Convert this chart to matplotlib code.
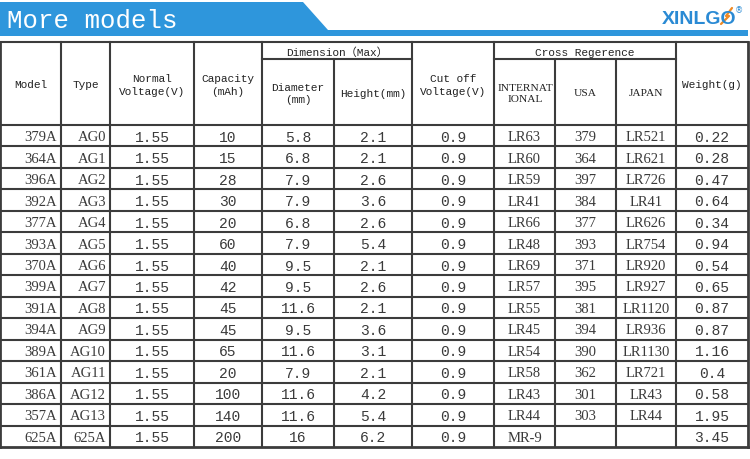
import matplotlib
matplotlib.use("Agg")
import matplotlib.pyplot as plt
from matplotlib.patches import Polygon

# ── table contents ──────────────────────────────────────────────
models   = ["379A", "364A", "396A", "392A", "377A", "393A", "370A", "399A",
            "391A", "394A", "389A", "361A", "386A", "357A", "625A"]
types    = ["AG0", "AG1", "AG2", "AG3", "AG4", "AG5", "AG6", "AG7",
            "AG8", "AG9", "AG10", "AG11", "AG12", "AG13", "625A"]
voltage  = ["1.55"] * 15
capacity = ["10", "15", "28", "30", "20", "60", "40", "42",
            "45", "45", "65", "20", "100", "140", "200"]
diameter = ["5.8", "6.8", "7.9", "7.9", "6.8", "7.9", "9.5", "9.5",
            "11.6", "9.5", "11.6", "7.9", "11.6", "11.6", "16"]
height   = ["2.1", "2.1", "2.6", "3.6", "2.6", "5.4", "2.1", "2.6",
            "2.1", "3.6", "3.1", "2.1", "4.2", "5.4", "6.2"]
cutoff   = ["0.9"] * 15
intl     = ["LR63", "LR60", "LR59", "LR41", "LR66", "LR48", "LR69", "LR57",
            "LR55", "LR45", "LR54", "LR58", "LR43", "LR44", "MR-9"]
usa      = ["379", "364", "397", "384", "377", "393", "371", "395",
            "381", "394", "390", "362", "301", "303", ""]
japan    = ["LR521", "LR621", "LR726", "LR41", "LR626", "LR754", "LR920", "LR927",
            "LR1120", "LR936", "LR1130", "LR721", "LR43", "LR44", ""]
weight   = ["0.22", "0.28", "0.47", "0.64", "0.34", "0.94", "0.54", "0.65",
            "0.87", "0.87", "1.16", "0.4", "0.58", "1.95", "3.45"]

columns = [models, types, voltage, capacity, diameter, height,
           cutoff, intl, usa, japan, weight]

top_headers = ["Model", "Type", "Normal\nVoltage(V)", "Capacity\n(mAh)", None, None,
               "Cut off\nVoltage(V)", None, None, None, "Weight(g)"]
group_headers = [("Dimension（Max）", 4, 5), ("Cross Regerence", 7, 9)]
sub_headers = {4: "Diameter\n(mm)", 5: "Height(mm)",
               7: "INTERNAT\nIONAL", 8: "USA", 9: "JAPAN"}

# ── layout (pixels) ─────────────────────────────────────────────
XS = [0, 61, 110, 194, 262, 334, 412, 494, 555, 616, 676, 748]
Y_TOP, Y_SUB, Y_HEAD = 43, 60, 126
Y_BOT = 448
ROW_H = (Y_BOT - Y_HEAD) / len(models)

MONO  = ["Liberation Mono", "Noto Sans CJK SC", "DejaVu Sans"]
SERIF = ["Liberation Serif", "DejaVu Serif"]
serif_cols = {0, 1, 7, 8, 9}
right_cols = {0, 1}

LINE = "#3c3c3c"
TXT  = "#3a3a3a"
HEAD = "#222222"
BLUE = "#2e96dc"

fig = plt.figure(figsize=(7.5, 4.6), dpi=100)
ax = fig.add_axes([0, 0, 1, 1])
ax.set_xlim(0, 750)
ax.set_ylim(460, 0)
ax.axis("off")

# ── banner ──────────────────────────────────────────────────────
ax.add_patch(Polygon([(0, 3), (303, 3), (328, 31), (748, 31), (748, 37), (0, 37)],
                     closed=True, facecolor=BLUE, edgecolor="none"))
ax.text(7, 21, "More models", family=MONO, fontsize=18.5, color="white",
        ha="left", va="center")

# logo
ax.text(662, 24, "XINLGO", family=["Liberation Sans", "DejaVu Sans"],
        fontweight="bold", fontsize=14, color="#2a8ad4", ha="left", va="baseline")
ax.plot([732, 726, 729, 721], [9, 17, 17, 25], color="#f08a24", lw=1.6,
        solid_capstyle="round")
ax.text(735, 11, "®", family=["DejaVu Sans"], fontsize=6, color="#2a8ad4",
        ha="left", va="center")

# ── grid lines ──────────────────────────────────────────────────
lw = 1.5
ax.plot([XS[0], XS[-1]], [Y_TOP, Y_TOP], color=LINE, lw=lw)
ax.plot([XS[4], XS[6]], [Y_SUB, Y_SUB], color=LINE, lw=lw)
ax.plot([XS[7], XS[10]], [Y_SUB, Y_SUB], color=LINE, lw=lw)
for i in range(len(models) + 1):
    y = Y_HEAD + i * ROW_H
    ax.plot([XS[0], XS[-1]], [y, y], color=LINE, lw=lw if i < len(models) else 2)
inner_sub = {5, 8, 9}
for j, x in enumerate(XS):
    y0 = Y_SUB if j in inner_sub else Y_TOP
    ax.plot([x, x], [y0, Y_BOT], color=LINE, lw=2 if j in (0, len(XS) - 1) else lw)

# ── header texts ────────────────────────────────────────────────
for j, h in enumerate(top_headers):
    if h is None:
        continue
    cx = (XS[j] + XS[j + 1]) / 2
    ax.text(cx, (Y_TOP + Y_HEAD) / 2 + 1, h, family=MONO, fontsize=8, color=HEAD,
            ha="center", va="center", linespacing=1.45, multialignment="center")
for label, a, b in group_headers:
    cx = (XS[a] + XS[b + 1]) / 2
    ax.text(cx, (Y_TOP + Y_SUB) / 2 + 1, label, family=MONO, fontsize=8,
            color=HEAD, ha="center", va="center")
for j, h in sub_headers.items():
    cx = (XS[j] + XS[j + 1]) / 2
    fam = SERIF if j in serif_cols else MONO
    size = 8.2 if j in serif_cols else 8
    ax.text(cx + (1 if j == 7 else 0), (Y_SUB + Y_HEAD) / 2 + 1, h, family=fam,
            fontsize=size, color=HEAD, ha="center", va="center",
            linespacing=1.35, multialignment="center")

# ── body texts ──────────────────────────────────────────────────
for j, col in enumerate(columns):
    for i, val in enumerate(col):
        if not val:
            continue
        cy = Y_HEAD + (i + 0.5) * ROW_H + 1
        if j in right_cols:
            x, ha = XS[j + 1] - 4, "right"
        else:
            x, ha = (XS[j] + XS[j + 1]) / 2, "center"
        fam = SERIF if j in serif_cols else MONO
        ax.text(x, cy, val, family=fam, fontsize=10.5, color=TXT,
                ha=ha, va="center")

fig.savefig("out.png", dpi=100)
